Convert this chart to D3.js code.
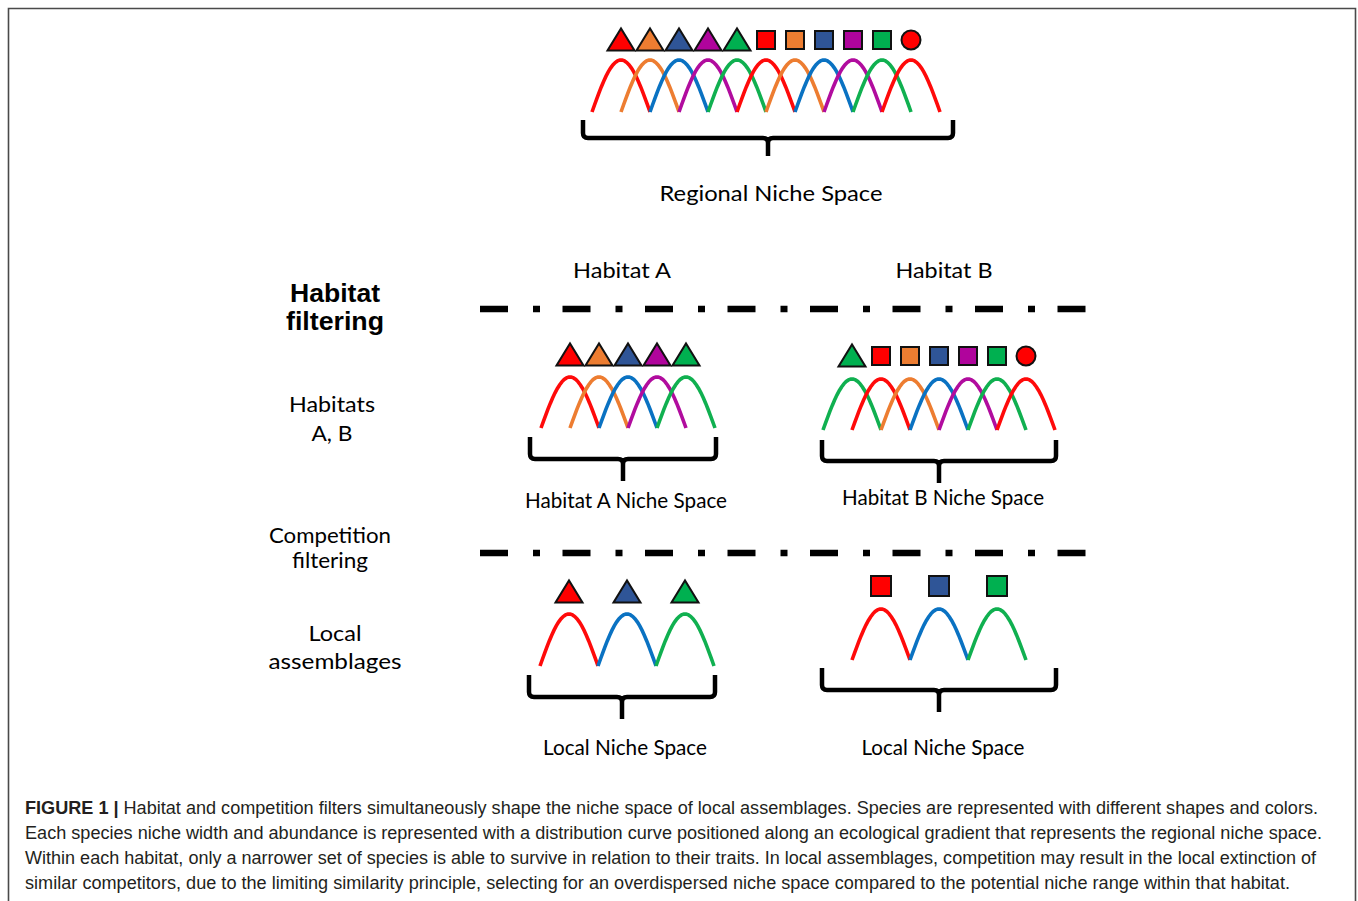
<!DOCTYPE html>
<html><head><meta charset="utf-8">
<script src="https://cdn.jsdelivr.net/npm/d3@7"></script>
<style>body{margin:0;background:#fff}svg{display:block}</style>
</head><body><svg id="c" width="1358" height="901"></svg>
<script>
// ---- data ----
const speciesShapes = ["triangle","triangle","triangle","triangle","triangle","square","square","square","square","square","circle"];
const speciesColors = ["red","orange","blue","purple","green","red","orange","blue","purple","green","red"];
const regionalSpecies = [0,1,2,3,4,5,6,7,8,9,10];
const habitatASpecies = [0,1,2,3,4];
const habitatBSpecies = [4,5,6,7,8,9,10];
const localASpecies = [0,2,4];
const localBSpecies = [5,7,9];
const speciesAbundance = [1,1,1,1,1,1,1,1,1,1,1];
const nicheHalfWidth = 1; // in niche-index units
const panelLabels = ["Regional Niche Space","Habitat A Niche Space","Habitat B Niche Space","Local Niche Space","Local Niche Space"];
const habitatTitles = ["Habitat A","Habitat B"];
const rowLabels = [["Habitat","filtering"],["Habitats","A, B"],["Competition","filtering"],["Local","assemblages"]];
const captionLines = [
 "Habitat and competition filters simultaneously shape the niche space of local assemblages. Species are represented with different shapes and colors.",
 "Each species niche width and abundance is represented with a distribution curve positioned along an ecological gradient that represents the regional niche space.",
 "Within each habitat, only a narrower set of species is able to survive in relation to their traits. In local assemblages, competition may result in the local extinction of",
 "similar competitors, due to the limiting similarity principle, selecting for an overdispersed niche space compared to the potential niche range within that habitat."
];

const symbolFill = {red:"#ff0000", orange:"#ed7d31", blue:"#2f5597", purple:"#b0049c", green:"#00b050"};
const curveStroke = {red:"#ff0a0a", orange:"#ed7d31", blue:"#0a72c2", purple:"#b10c9e", green:"#10b050"};

const svg = d3.select("#c");
svg.append("rect").attr("width",1358).attr("height",901).attr("fill","#fff");
svg.append("path").attr("d","M8.5,901V8.5H1355.5V901").attr("fill","none").attr("stroke","#4a4a4a").attr("stroke-width",1.6);

const labelFont = "Lato, 'Open Sans', sans-serif";
function fit(sel, w){ sel.attr("textLength", w).attr("lengthAdjust","spacingAndGlyphs"); return sel; }

// ---- panels ----
const panels = [
 {sp:regionalSpecies, x0:621, sy:40, peak:60, base:112, br:[583,953,120,138,156], bcx:768, lx:771, ly:201, lw:223, sq:18},
 {sp:habitatASpecies, x0:570, sy:355, peak:377, base:428, br:[530,716,437,459,481], bcx:623, lx:626, ly:508, lw:202, sq:18},
 {sp:habitatBSpecies, x0:736, sy:356, peak:379, base:430, br:[822,1056,440,461,483], bcx:939, lx:943, ly:505, lw:202, sq:18},
 {sp:localASpecies, x0:569, sy:592, peak:614, base:666, br:[529,715,675,697,719], bcx:622, lx:625, ly:755, lw:164, sq:20},
 {sp:localBSpecies, x0:736, sy:586, peak:609, base:660, br:[822,1056,668,690,712], bcx:939, lx:943, ly:755, lw:163, sq:20}
];

panels.forEach((p,pi)=>{
  const x = d3.scaleLinear().domain([0,10]).range([p.x0, p.x0+290]);
  const y = d3.scaleLinear().domain([0,1]).range([p.base, p.peak]);
  const g = svg.append("g");
  const line = d3.line().x(d=>x(d[0])).y(d=>y(d[1]));
  p.sp.forEach(i=>{
    const pts = d3.range(0,1.0001,0.04).map(t=>[i - nicheHalfWidth + 2*nicheHalfWidth*t, speciesAbundance[i]*Math.sin(Math.PI*t)]);
    g.append("path").attr("d", line(pts)).attr("fill","none")
      .attr("stroke", curveStroke[speciesColors[i]]).attr("stroke-width",3.6);
  });
  p.sp.forEach(i=>{
    const cx = x(i), cy = p.sy, col = symbolFill[speciesColors[i]], sh = speciesShapes[i];
    let el;
    if(sh==="triangle"){
      el = g.append("path").attr("d",`M${cx-13.5},${cy+10.5}L${cx+13.5},${cy+10.5}L${cx},${cy-11.5}Z`);
    } else if(sh==="square"){
      el = g.append("rect").attr("x",cx-p.sq/2).attr("y",cy-p.sq/2).attr("width",p.sq).attr("height",p.sq);
    } else {
      el = g.append("circle").attr("cx",cx).attr("cy",cy).attr("r",9.5);
    }
    el.attr("fill",col).attr("stroke","#111").attr("stroke-width",2).attr("stroke-linejoin","miter");
  });
  const [x1,x2,top,h,bot] = p.br, c = p.bcx, r = 5;
  const d = `M${x1},${top}V${h-r}Q${x1},${h} ${x1+r},${h}H${c-r}Q${c},${h} ${c},${h+r}V${bot}` +
            `M${x2},${top}V${h-r}Q${x2},${h} ${x2-r},${h}H${c+r}Q${c},${h} ${c},${h+r}`;
  g.append("path").attr("d",d).attr("fill","none").attr("stroke","#000").attr("stroke-width",4.5);
  fit(g.append("text").attr("x",p.lx).attr("y",p.ly).attr("text-anchor","middle")
    .attr("font-family",labelFont).attr("font-size",22).attr("fill","#000").text(panelLabels[pi]), p.lw);
});

[[622,278,98],[944,278,97]].forEach((pos,i)=>{
  fit(svg.append("text").attr("x",pos[0]).attr("y",pos[1]).attr("text-anchor","middle")
    .attr("font-family",labelFont).attr("font-size",22).text(habitatTitles[i]), pos[2]);
});

[309,553].forEach(yy=>{
  svg.append("line").attr("x1",480).attr("x2",1088).attr("y1",yy).attr("y2",yy)
    .attr("stroke","#000").attr("stroke-width",6.5).attr("stroke-dasharray","28,25,7,22.5");
});

const rowPos = [
 {x:335, ys:[302,330], ws:[90,98], bold:true, fs:25},
 {x:332, ys:[412,441], ws:[86,41], fs:22},
 {x:330, ys:[543,568], ws:[122,76], fs:21},
 {x:335, ys:[641,669], ws:[53,133], fs:22}
];
rowLabels.forEach((lines,i)=>{
  const rp = rowPos[i];
  lines.forEach((t,j)=>{
    fit(svg.append("text").attr("x",rp.x).attr("y",rp.ys[j]).attr("text-anchor","middle")
      .attr("font-family", rp.bold ? "'Liberation Sans', Arial, sans-serif" : labelFont)
      .attr("font-weight", rp.bold ? "bold" : "normal")
      .attr("font-size", rp.fs).text(t), rp.ws[j]);
  });
});

const capW = [1293,1297,1291,1265];
captionLines.forEach((t,i)=>{
  const tx = svg.append("text").attr("x",25).attr("y",814+i*25)
    .attr("font-family","'Liberation Sans', Arial, sans-serif").attr("font-size",17.5).attr("fill","#231f20");
  if(i===0){
    tx.append("tspan").attr("font-weight","bold").text("FIGURE 1 | ");
  }
  tx.append("tspan").text(t);
  fit(tx, capW[i]);
});
</script>
</body></html>
